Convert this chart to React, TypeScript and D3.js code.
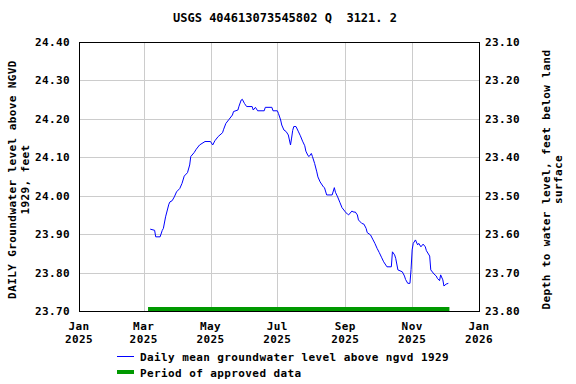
import React from 'react';
import * as d3 from 'd3';

// daily mean groundwater level (ft above NGVD 1929)
const dates = [
    '2025-03-07', '2025-03-11', '2025-03-12', '2025-03-16', '2025-03-18', '2025-03-19', '2025-03-21', '2025-03-24',
    '2025-03-25', '2025-03-27', '2025-03-29', '2025-03-31', '2025-04-03', '2025-04-05', '2025-04-07', '2025-04-10',
    '2025-04-12', '2025-04-13', '2025-04-16', '2025-04-18', '2025-04-21', '2025-04-26', '2025-05-01', '2025-05-03',
    '2025-05-05', '2025-05-08', '2025-05-12', '2025-05-13', '2025-05-15', '2025-05-18', '2025-05-21', '2025-05-22',
    '2025-05-26', '2025-05-27', '2025-05-29', '2025-05-30', '2025-06-01', '2025-06-03', '2025-06-08', '2025-06-09',
    '2025-06-11', '2025-06-13', '2025-06-19', '2025-06-20', '2025-06-26', '2025-06-27', '2025-07-01', '2025-07-02',
    '2025-07-04', '2025-07-05', '2025-07-07', '2025-07-09', '2025-07-11', '2025-07-12', '2025-07-13', '2025-07-14',
    '2025-07-15', '2025-07-16', '2025-07-18', '2025-07-20', '2025-07-22', '2025-07-24', '2025-07-26', '2025-07-27',
    '2025-07-29', '2025-07-30', '2025-08-01', '2025-08-02', '2025-08-04', '2025-08-06', '2025-08-07', '2025-08-09',
    '2025-08-12', '2025-08-13', '2025-08-15', '2025-08-20', '2025-08-22', '2025-08-23', '2025-08-25', '2025-08-27',
    '2025-08-29', '2025-09-01', '2025-09-03', '2025-09-04', '2025-09-07', '2025-09-09', '2025-09-10', '2025-09-12',
    '2025-09-13', '2025-09-16', '2025-09-18', '2025-09-20', '2025-09-21', '2025-09-24', '2025-09-26', '2025-09-28',
    '2025-09-30', '2025-10-02', '2025-10-04', '2025-10-06', '2025-10-09', '2025-10-13', '2025-10-14', '2025-10-16',
    '2025-10-17', '2025-10-19', '2025-10-23', '2025-10-25', '2025-10-26', '2025-10-28', '2025-10-30', '2025-10-31',
    '2025-11-01', '2025-11-02', '2025-11-04', '2025-11-06', '2025-11-07', '2025-11-09', '2025-11-11', '2025-11-13',
    '2025-11-14', '2025-11-17', '2025-11-18', '2025-11-21', '2025-11-23', '2025-11-24', '2025-11-26', '2025-11-27',
    '2025-11-29', '2025-11-30', '2025-12-02', '2025-12-04',
];
const levels = [
    23.913, 23.91, 23.893, 23.893, 23.91, 23.915, 23.945, 23.978,
    23.984, 23.987, 23.997, 24.01, 24.019, 24.032, 24.051, 24.06,
    24.08, 24.102, 24.112, 24.121, 24.132, 24.141, 24.141, 24.132,
    24.143, 24.154, 24.164, 24.173, 24.188, 24.199, 24.21, 24.219,
    24.223, 24.233, 24.249, 24.251, 24.24, 24.232, 24.232, 24.223,
    24.23, 24.221, 24.221, 24.23, 24.23, 24.221, 24.221, 24.214,
    24.197, 24.184, 24.171, 24.167, 24.158, 24.145, 24.132, 24.15,
    24.17, 24.18, 24.18, 24.168, 24.156, 24.142, 24.13, 24.116,
    24.104, 24.102, 24.11, 24.102, 24.084, 24.062, 24.049, 24.036,
    24.023, 24.021, 24.002, 24.002, 24.021, 24.009, 23.997, 23.983,
    23.969, 23.958, 23.952, 23.95, 23.96, 23.957, 23.958, 23.95,
    23.937, 23.928, 23.926, 23.915, 23.904, 23.898, 23.887, 23.876,
    23.863, 23.852, 23.84, 23.828, 23.815, 23.815, 23.854, 23.846,
    23.837, 23.807, 23.802, 23.791, 23.782, 23.772, 23.772, 23.808,
    23.859, 23.876, 23.885, 23.872, 23.876, 23.867, 23.874, 23.867,
    23.857, 23.843, 23.807, 23.796, 23.791, 23.785, 23.779, 23.794,
    23.781, 23.765, 23.77, 23.772,
];

const approvedPeriod = ['2025-03-05', '2025-12-05'];

const leftTicks = [23.7, 23.8, 23.9, 24.0, 24.1, 24.2, 24.3, 24.4];
const rightTicks = [23.1, 23.2, 23.3, 23.4, 23.5, 23.6, 23.7, 23.8];
const monthTicks = ['2025-01-01', '2025-03-01', '2025-05-01', '2025-07-01', '2025-09-01', '2025-11-01', '2026-01-01'];

const title = 'USGS 404613073545802 Q  3121. 2';
const leftLabel = ['DAILY Groundwater level above NGVD', '1929, feet'];
const rightLabel = ['Depth to water level, feet below land', 'surface'];
const legendItems = ['Daily mean groundwater level above ngvd 1929', 'Period of approved data'];

const parse = d3.timeParse('%Y-%m-%d');
const font = '"DejaVu Sans Mono", monospace';

const App: React.FC = () => {
    const width = 576;
    const height = 384;
    const margin = { top: 42, right: 97, bottom: 73, left: 79 };
    const x0 = margin.left, x1 = width - margin.right;
    const y0 = margin.top, y1 = height - margin.bottom;

    const xScale = d3.scaleTime()
        .domain([parse('2025-01-01')!, parse('2026-01-01')!])
        .range([x0, x1]);
    const yScale = d3.scaleLinear().domain([23.7, 24.4]).range([y1, y0]);
    const yRight = d3.scaleLinear().domain([23.1, 23.8]).range([y0, y1]);

    const data = dates.map((d, i) => ({ date: parse(d)!, value: levels[i] }));
    const line = d3.line<{ date: Date; value: number }>()
        .x(d => xScale(d.date))
        .y(d => yScale(d.value));

    const textStyle = {
        fontFamily: font, fontWeight: 'bold' as const, fontSize: 11, fill: '#000', letterSpacing: 0.4,
    };
    const lcx = 18, rcx = 550, cy = (y0 + y1) / 2 + 3;

    return (
        <svg width={width} height={height} style={{ position: 'absolute', left: 0, top: 0, background: '#fff' }}>
            <text x={285} y={22} textAnchor="middle"
                style={{ ...textStyle, fontSize: 12, letterSpacing: 0, whiteSpace: 'pre' }}>{title}</text>

            {/* grid */}
            {leftTicks.map(t => (
                <line key={'h' + t} x1={x0} x2={x1} y1={Math.round(yScale(t)) + 0.5} y2={Math.round(yScale(t)) + 0.5}
                    stroke="#cccccc" />
            ))}
            {monthTicks.map(m => (
                <line key={'v' + m} x1={Math.round(xScale(parse(m)!)) + 0.5} x2={Math.round(xScale(parse(m)!)) + 0.5}
                    y1={y0} y2={y1} stroke="#cccccc" />
            ))}

            {/* approved period bar */}
            <line x1={xScale(parse(approvedPeriod[0])!)} x2={xScale(parse(approvedPeriod[1])!)}
                y1={y1 - 2} y2={y1 - 2} stroke="#009900" strokeWidth={4} />

            <path d={line(data) ?? ''} fill="none" stroke="#0000ff" strokeWidth={1} />

            <rect x={x0 + 0.5} y={y0 + 0.5} width={x1 - x0} height={y1 - y0} fill="none" stroke="#000" />

            {/* axes */}
            {leftTicks.map(t => (
                <text key={'l' + t} x={x0 - 9} y={yScale(t) + 4} textAnchor="end" style={textStyle}>{t.toFixed(2)}</text>
            ))}
            {rightTicks.map(t => (
                <text key={'r' + t} x={x1 + 6} y={yRight(t) + 4} textAnchor="start" style={textStyle}>{t.toFixed(2)}</text>
            ))}
            {monthTicks.map(m => {
                const d = parse(m)!;
                const xp = xScale(d);
                return (
                    <g key={'x' + m}>
                        <text x={xp} y={330} textAnchor="middle" style={textStyle}>{d3.timeFormat('%b')(d)}</text>
                        <text x={xp} y={343} textAnchor="middle" style={textStyle}>{d3.timeFormat('%Y')(d)}</text>
                    </g>
                );
            })}

            <text transform={`translate(${lcx},${cy}) rotate(-90)`} textAnchor="middle" style={textStyle}>
                <tspan x={0} dy={-2}>{leftLabel[0]}</tspan>
                <tspan x={0} dy={13}>{leftLabel[1]}</tspan>
            </text>
            <text transform={`translate(${rcx},${cy}) rotate(-90)`} textAnchor="middle" style={textStyle}>
                <tspan x={0} dy={0}>{rightLabel[0]}</tspan>
                <tspan x={0} dy={12}>{rightLabel[1]}</tspan>
            </text>

            {/* legend */}
            <line x1={117} x2={134} y1={356.5} y2={356.5} stroke="#0000ff" />
            <text x={140} y={361} style={textStyle}>{legendItems[0]}</text>
            <line x1={117} x2={134} y1={372} y2={372} stroke="#009900" strokeWidth={4} />
            <text x={140} y={377} style={textStyle}>{legendItems[1]}</text>
        </svg>
    );
};

export default App;
